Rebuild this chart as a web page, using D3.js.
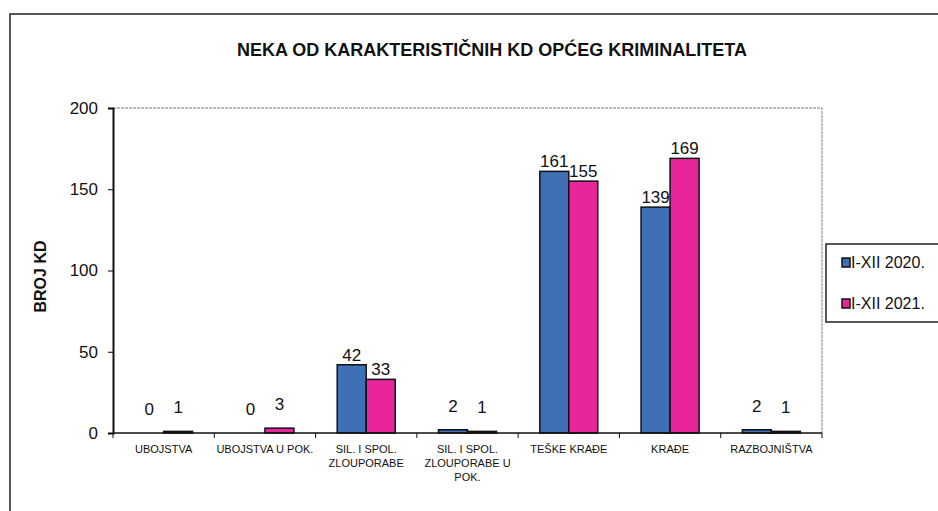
<!DOCTYPE html>
<html>
<head>
<meta charset="utf-8">
<script src="https://cdn.jsdelivr.net/npm/d3@7"></script>
<style>
  body { margin: 0; background: #fff; }
  svg text { font-family: "Liberation Sans Narrow", "Arial Narrow", "Liberation Sans", Arial, sans-serif; fill: #111; }
</style>
</head>
<body>
<div id="chart"></div>
<script>
// categories and the two yearly series
const categories = ["UBOJSTVA", "UBOJSTVA U POK.", "SIL. I SPOL.|ZLOUPORABE", "SIL. I SPOL.|ZLOUPORABE U|POK.", "TEŠKE KRAĐE", "KRAĐE", "RAZBOJNIŠTVA"];
const series2020 = [0, 0, 42, 2, 161, 139, 2];
const series2021 = [1, 3, 33, 1, 155, 169, 1];
const seriesNames = ["I-XII 2020.", "I-XII 2021."];
const yTicks = [0, 50, 100, 150, 200];

const width = 938, height = 511;
const margin = {left: 113, right: 116, top: 108, bottom: 78};
const colors = ["#3f6fb5", "#e8259a"];

const svg = d3.select("#chart").append("svg")
    .attr("width", width)
    .attr("height", height);

// outer frame (cut off at right/bottom in the scan)
svg.append("path")
    .attr("d", `M10,${height} V14 H${width}`)
    .attr("fill", "none")
    .attr("stroke", "#222")
    .attr("stroke-width", 1.5);

const plotW = width - margin.left - margin.right;
const plotH = height - margin.top - margin.bottom;

const g = svg.append("g").attr("transform", `translate(${margin.left},${margin.top})`);

const x = d3.scaleBand().domain(categories).range([0, plotW]);
const xs = d3.scaleBand().domain([0, 1]).range([0, 58]);
const y = d3.scaleLinear().domain([0, 200]).range([plotH, 0]);

// plot area border: top and right dotted grey
g.append("path")
    .attr("d", `M0,0 H${plotW} V${plotH}`)
    .attr("fill", "none")
    .attr("stroke", "#777")
    .attr("stroke-dasharray", "3,1");

const data = categories.map((c, i) => ({cat: c, vals: [series2020[i], series2021[i]]}));

const groups = g.selectAll(".grp").data(data).enter().append("g")
    .attr("transform", d => `translate(${x(d.cat) + (x.bandwidth() - 58) / 2},0)`);

groups.selectAll("rect").data(d => d.vals).enter().append("rect")
    .attr("x", (d, i) => xs(i))
    .attr("y", d => y(d))
    .attr("width", xs.bandwidth())
    .attr("height", d => plotH - y(d))
    .attr("fill", (d, i) => colors[i])
    .attr("stroke", "#111")
    .attr("stroke-width", 1.5);

// value labels (small values sit a bit higher, as in the original)
groups.selectAll(".val").data(d => d.vals).enter().append("text")
    .attr("x", (d, i) => xs(i) + xs.bandwidth() / 2)
    .attr("y", d => y(d) - 4 - (d < 5 ? 14 : 0))
    .attr("text-anchor", "middle")
    .style("font-size", "17px")
    .text(d => d);

// y axis
const yAxis = g.append("g")
    .call(d3.axisLeft(y).tickValues(yTicks).tickSize(5).tickPadding(10));
yAxis.select(".domain").attr("stroke", "#111").attr("stroke-width", 2);
yAxis.selectAll("text").style("font-size", "17px");

// x axis with ticks between categories
const xAxis = g.append("g").attr("transform", `translate(0,${plotH})`);
xAxis.append("line").attr("x1", 0).attr("x2", plotW).attr("stroke", "#111").attr("stroke-width", 1.5);
xAxis.selectAll(".tk").data(d3.range(categories.length + 1)).enter().append("line")
    .attr("x1", i => i * x.step()).attr("x2", i => i * x.step())
    .attr("y1", 0).attr("y2", 5)
    .attr("stroke", "#111");

const labels = xAxis.selectAll(".lab").data(categories).enter().append("text")
    .attr("x", d => x(d) + x.bandwidth() / 2)
    .attr("y", 20)
    .attr("text-anchor", "middle")
    .style("font-size", "11px");
labels.selectAll("tspan").data(d => d.split("|")).enter().append("tspan")
    .attr("x", function() { return d3.select(this.parentNode).attr("x"); })
    .attr("dy", (d, i) => i ? 14 : 0)
    .text(d => d);

// title
svg.append("text")
    .attr("x", 492).attr("y", 56)
    .attr("text-anchor", "middle")
    .style("font-size", "18px").style("font-weight", "bold")
    .text("NEKA OD KARAKTERISTIČNIH KD OPĆEG KRIMINALITETA");

// y axis title
svg.append("text")
    .attr("transform", `translate(46,${margin.top + plotH / 2 + 6}) rotate(-90)`)
    .attr("text-anchor", "middle")
    .style("font-size", "16px").style("font-weight", "bold")
    .text("BROJ KD");

// legend
const legend = svg.append("g").attr("transform", "translate(826,244)");
legend.append("rect").attr("width", 130).attr("height", 78)
    .attr("fill", "#fff").attr("stroke", "#222").attr("stroke-width", 1.5);
seriesNames.forEach((s, i) => {
    const row = legend.append("g").attr("transform", `translate(16,${20 + i * 41})`);
    row.append("rect").attr("x", 0).attr("y", -6).attr("width", 8).attr("height", 9)
        .attr("fill", colors[i]).attr("stroke", "#111").attr("stroke-width", 1.5);
    row.append("text").attr("x", 9).attr("y", 4).style("font-size", "16px").text(s);
});
</script>
</body>
</html>
